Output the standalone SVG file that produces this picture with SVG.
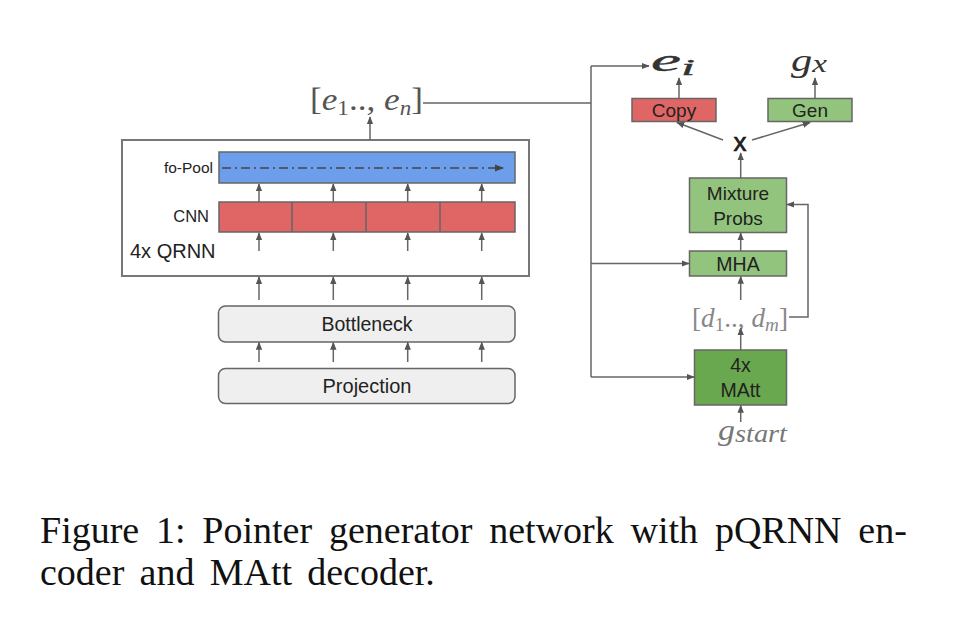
<svg xmlns="http://www.w3.org/2000/svg" width="956" height="632" viewBox="0 0 956 632">
<style>
.sans{font-family:"Liberation Sans",Arial,sans-serif;fill:#222}
.serif{font-family:"Liberation Serif","Times New Roman",serif}
.box{stroke:#666;stroke-width:1.5}
.ln{fill:none;stroke:#666;stroke-width:1.5}
.arr{fill:none;stroke:#666;stroke-width:1.5;marker-end:url(#ah)}
.math{font-family:"Liberation Serif","Times New Roman",serif}
</style>
<defs>
<marker id="ah" viewBox="0 0 10 10" refX="9" refY="5" markerWidth="8" markerHeight="8" markerUnits="userSpaceOnUse" orient="auto">
<path d="M0,1 L10,5 L0,9 z" fill="#555"/>
</marker>
<marker id="ahd" viewBox="0 0 10 10" refX="9" refY="5" markerWidth="9" markerHeight="9" markerUnits="userSpaceOnUse" orient="auto">
<path d="M0,1 L10,5 L0,9 z" fill="#444"/>
</marker>
</defs>
<rect width="956" height="632" fill="#fff"/>

<g id="qrnn">
<rect x="122" y="140" width="407" height="136" fill="#fff" stroke="#777" stroke-width="2"/>
<text class="sans" x="130" y="258" font-size="20">4x QRNN</text>
</g>
<g id="fopool">
<rect class="box" x="219" y="152" width="296" height="31" fill="#6d9eeb"/>
<text class="sans" x="213" y="173" font-size="15.5" text-anchor="end">fo-Pool</text>
<line x1="222" y1="168" x2="503" y2="168" stroke="#444" stroke-width="1.5" stroke-dasharray="9 4 2 4" marker-end="url(#ahd)"/>
</g>
<g id="cnn">
<rect class="box" x="219" y="202" width="296" height="30" fill="#e06666"/>
<line class="ln" x1="292" y1="202" x2="292" y2="232"/>
<line class="ln" x1="366" y1="202" x2="366" y2="232"/>
<line class="ln" x1="440" y1="202" x2="440" y2="232"/>
<text class="sans" x="209" y="222" font-size="16.5" text-anchor="end">CNN</text>
</g>
<g id="bottleneck">
<rect class="box" x="218.5" y="306" width="296.5" height="36" rx="7" fill="#efefef"/>
<text class="sans" x="367" y="331" font-size="19.5" text-anchor="middle">Bottleneck</text>
</g>
<g id="projection">
<rect class="box" x="218.5" y="368.5" width="296.5" height="35" rx="7" fill="#efefef"/>
<text class="sans" x="367" y="393" font-size="20" text-anchor="middle">Projection</text>
</g>

<g id="enc-out">
<text class="math" x="310" y="110" font-size="32" fill="#555" textLength="113" lengthAdjust="spacingAndGlyphs">[<tspan font-style="italic">e</tspan><tspan font-size="21" dy="5">1</tspan><tspan dy="-5">.., </tspan><tspan font-style="italic">e</tspan><tspan font-size="21" font-style="italic" dy="5">n</tspan><tspan dy="-5">]</tspan></text>
</g>

<g id="copy">
<rect class="box" x="632" y="98.5" width="84" height="23" fill="#e06666"/>
<text class="sans" x="674" y="117" font-size="19" text-anchor="middle">Copy</text>
</g>
<g id="gen">
<rect class="box" x="768" y="98.5" width="84" height="23" fill="#93c47d"/>
<text class="sans" x="810" y="117" font-size="19" text-anchor="middle">Gen</text>
</g>
<g id="ei">
<text class="math" x="651" y="71" font-size="32" fill="#333" font-style="italic" stroke="#333" stroke-width="0.4" textLength="44" lengthAdjust="spacingAndGlyphs">e<tspan font-size="24" dy="4">i</tspan></text>
</g>
<g id="gx">
<text class="math" x="791" y="71" font-size="32" fill="#333" font-style="italic" textLength="36" lengthAdjust="spacingAndGlyphs">g<tspan font-size="25" dy="1">x</tspan></text>
</g>
<g id="mult">
<text class="sans" x="740" y="151" font-size="26" text-anchor="middle" fill="#111" stroke="#111" stroke-width="0.6">x</text>
</g>
<g id="mixture">
<rect class="box" x="689.5" y="178" width="97" height="54.5" fill="#93c47d"/>
<text class="sans" x="738" y="200" font-size="19" text-anchor="middle">Mixture</text>
<text class="sans" x="738" y="225" font-size="19" text-anchor="middle">Probs</text>
</g>
<g id="mha">
<rect class="box" x="689.5" y="251" width="97" height="25" fill="#93c47d"/>
<text class="sans" x="738" y="271" font-size="19.5" text-anchor="middle">MHA</text>
</g>
<g id="dec-out">
<text class="math" x="692" y="327" font-size="27" fill="#888" textLength="96" lengthAdjust="spacingAndGlyphs">[<tspan font-style="italic">d</tspan><tspan font-size="19" dy="4">1</tspan><tspan dy="-4">.., </tspan><tspan font-style="italic">d</tspan><tspan font-size="19" font-style="italic" dy="4">m</tspan><tspan dy="-4">]</tspan></text>
</g>
<g id="matt">
<rect class="box" x="694.5" y="350" width="92" height="55" fill="#6aa84f"/>
<text class="sans" x="740.5" y="372" font-size="19.5" text-anchor="middle">4x</text>
<text class="sans" x="740.5" y="397" font-size="19.5" text-anchor="middle">MAtt</text>
</g>
<g id="gstart">
<text class="math" x="718" y="440" font-size="30" fill="#777" font-style="italic" textLength="69" lengthAdjust="spacingAndGlyphs">g<tspan font-size="25" dy="2">start</tspan></text>
</g>

<g id="connectors">
<line class="arr" x1="259" y1="362" x2="259" y2="342.5"/>
<line class="arr" x1="333.3" y1="362" x2="333.3" y2="342.5"/>
<line class="arr" x1="407.7" y1="362" x2="407.7" y2="342.5"/>
<line class="arr" x1="481.7" y1="362" x2="481.7" y2="342.5"/>
<line class="arr" x1="259" y1="300" x2="259" y2="277"/>
<line class="arr" x1="333.3" y1="300" x2="333.3" y2="277"/>
<line class="arr" x1="407.7" y1="300" x2="407.7" y2="277"/>
<line class="arr" x1="481.7" y1="300" x2="481.7" y2="277"/>
<line class="arr" x1="259" y1="251" x2="259" y2="233"/>
<line class="arr" x1="333.3" y1="251" x2="333.3" y2="233"/>
<line class="arr" x1="407.7" y1="251" x2="407.7" y2="233"/>
<line class="arr" x1="481.7" y1="251" x2="481.7" y2="233"/>
<line class="arr" x1="259" y1="202" x2="259" y2="184"/>
<line class="arr" x1="333.3" y1="202" x2="333.3" y2="184"/>
<line class="arr" x1="407.7" y1="202" x2="407.7" y2="184"/>
<line class="arr" x1="481.7" y1="202" x2="481.7" y2="184"/>
<line class="arr" x1="370" y1="140" x2="370" y2="117"/>
<path class="ln" d="M423,103 H591 M591,66 V377"/>
<path class="arr" d="M591,66 H649"/>
<path class="arr" d="M591,263.5 H689"/>
<path class="arr" d="M591,377 H694"/>
<path class="arr" d="M789,317 H808 V204.5 H787"/>
<line class="arr" x1="740.7" y1="350" x2="740.7" y2="328"/>
<line class="arr" x1="740.7" y1="300" x2="740.7" y2="276.5"/>
<line class="arr" x1="740.7" y1="251" x2="740.7" y2="233"/>
<line class="arr" x1="740.7" y1="178" x2="740.7" y2="153"/>
<line class="arr" x1="723" y1="140" x2="677" y2="122.5"/>
<line class="arr" x1="752" y1="140" x2="810" y2="122.5"/>
<line class="arr" x1="679" y1="98.5" x2="679" y2="78"/>
<line class="arr" x1="815" y1="98.5" x2="815" y2="78"/>
<line class="arr" x1="740.7" y1="422" x2="740.7" y2="405.5"/>
</g>

<g id="caption">
<text class="serif" x="40" y="543" font-size="38" fill="#111" word-spacing="7.3">Figure 1: Pointer generator network with pQRNN en-</text>
<text class="serif" x="40" y="585" font-size="38" fill="#111" word-spacing="5.7">coder and MAtt decoder.</text>
</g>
</svg>
